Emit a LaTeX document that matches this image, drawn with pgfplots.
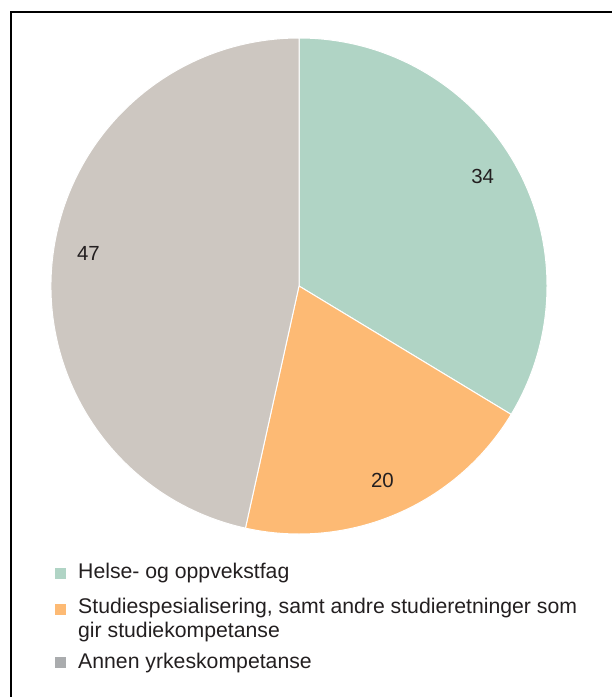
\documentclass[border=0pt]{standalone}
\usepackage{pgfplots}
\pgfplotsset{compat=1.18}
\usepackage{fontspec}
\setmainfont{Liberation Sans}

\definecolor{helse}{RGB}{176,212,197}
\definecolor{studie}{RGB}{253,186,116}
\definecolor{annen}{RGB}{205,199,193}
\definecolor{annenkey}{RGB}{170,172,174}
\definecolor{txt}{RGB}{35,31,32}

% slice values (as printed on the chart)
\def\vA{34}
\def\vB{20}
\def\vC{47}
\pgfmathsetmacro\tot{\vA+\vB+\vC}
\pgfmathsetmacro\unit{360/\tot}
\pgfmathsetmacro\aA{90}
\pgfmathsetmacro\aB{\aA-\unit*\vA}
\pgfmathsetmacro\aC{\aB-\unit*\vB}
\pgfmathsetmacro\aD{\aC-\unit*\vC}
% label directions (roughly mid-slice)
\pgfmathsetmacro\mA{(\aA+\aB)/2+1.5}
\pgfmathsetmacro\mB{(\aB+\aC)/2}
\pgfmathsetmacro\mC{(\aC+\aD)/2-2.5}

\begin{document}
\begin{tikzpicture}
\path[use as bounding box] (0,0) rectangle (612bp,697bp);
\begin{axis}[
  at={(0,0)}, anchor=south west,
  width=612bp, height=697bp, scale only axis,
  xmin=0, xmax=612, ymin=0, ymax=697,
  y dir=reverse,
  hide axis, clip=false,
]
% frame (right and bottom edges lie outside the picture)
\draw[black, line width=2.2bp] (axis cs:11,760) -- (axis cs:11,12) -- (axis cs:680,12);

% pie slices
\fill[helse, draw=white, line width=1bp] (axis cs:299,286) -- ++(\aA:248bp)
  arc[start angle=\aA, end angle=\aB, radius=248bp] -- cycle;
\fill[studie, draw=white, line width=1bp] (axis cs:299,286) -- ++(\aB:248bp)
  arc[start angle=\aB, end angle=\aC, radius=248bp] -- cycle;
\fill[annen, draw=white, line width=1bp] (axis cs:299,286) -- ++(\aC:248bp)
  arc[start angle=\aC, end angle=\aD, radius=248bp] -- cycle;

% slice labels
\begin{scope}[every node/.style={text=txt, font=\fontsize{20.5}{24}\selectfont}]
\path (axis cs:299,286) ++(\mA:214bp) node {\vA};
\path (axis cs:299,286) ++(\mB:212bp) node {\vB};
\path (axis cs:299,286) ++(\mC:213bp) node {\vC};
\end{scope}

% legend
\fill[helse] (axis cs:55,567.5) rectangle (axis cs:66,578.5);
\fill[studie] (axis cs:55,603.5) rectangle (axis cs:66,614.5);
\fill[annenkey] (axis cs:55,656.5) rectangle (axis cs:66,667.5);
\begin{scope}[every node/.style={text=txt, anchor=base west, inner sep=0pt,
    font=\fontsize{21.3}{24}\selectfont}]
\node at (axis cs:78,578) {Helse- og oppvekstfag};
\node at (axis cs:78,613) {Studiespesialisering, samt andre studieretninger som};
\node at (axis cs:78,637) {gir studiekompetanse};
\node at (axis cs:78,668) {Annen yrkeskompetanse};
\end{scope}
\end{axis}
\end{tikzpicture}
\end{document}
